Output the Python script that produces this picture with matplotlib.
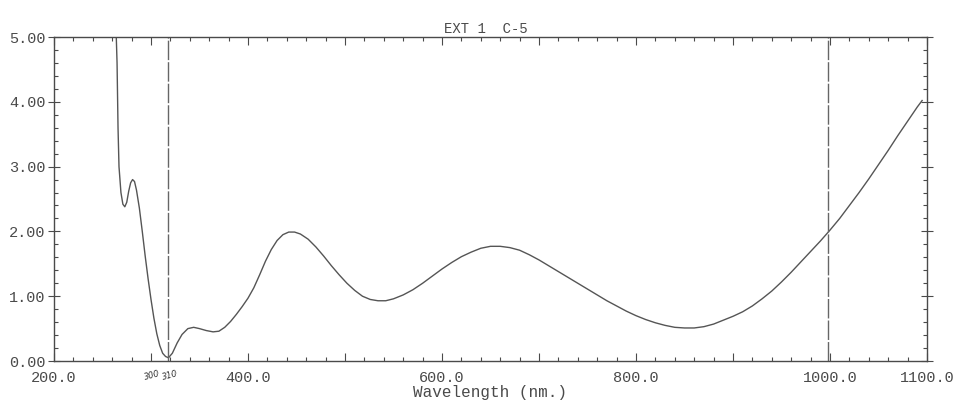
import numpy as np
import matplotlib
matplotlib.use("Agg")
from matplotlib import pyplot as plt
from matplotlib.ticker import MultipleLocator, FixedLocator

# spectrum (wavelength nm, absorbance)
wl = [263, 265, 266, 267, 269, 271, 273, 275, 277, 279, 281, 283, 285, 288,
      291, 294, 297, 300, 303, 306, 309, 312, 315, 318, 322, 327, 332, 338,
      344, 350, 357, 364, 370, 376, 382, 388, 394, 400, 406, 412, 418, 424,
      430, 436, 442, 448, 454, 462, 470, 478, 486, 494, 502, 510, 518, 526,
      534, 542, 550, 560, 570, 580, 590, 600, 610, 620, 630, 640, 650, 660,
      670, 680, 690, 700, 710, 720, 730, 740, 750, 760, 770, 780, 790, 800,
      810, 820, 830, 840, 850, 860, 870, 880, 890, 900, 910, 920, 930, 940,
      950, 960, 970, 980, 990, 1000, 1010, 1020, 1030, 1040, 1050, 1060,
      1070, 1080, 1090, 1095]
absb = [5.6, 4.6, 3.6, 3.0, 2.6, 2.42, 2.38, 2.45, 2.62, 2.75, 2.80, 2.77,
        2.64, 2.36, 2.00, 1.62, 1.27, 0.95, 0.66, 0.42, 0.24, 0.12, 0.07,
        0.05, 0.12, 0.28, 0.41, 0.50, 0.52, 0.50, 0.47, 0.45, 0.46, 0.52,
        0.61, 0.72, 0.84, 0.97, 1.13, 1.33, 1.54, 1.72, 1.86, 1.95, 1.99,
        1.99, 1.96, 1.88, 1.76, 1.62, 1.47, 1.33, 1.20, 1.09, 1.00, 0.95,
        0.93, 0.93, 0.96, 1.02, 1.10, 1.20, 1.31, 1.42, 1.52, 1.61, 1.68,
        1.74, 1.77, 1.77, 1.75, 1.71, 1.64, 1.56, 1.47, 1.38, 1.29, 1.20,
        1.11, 1.02, 0.93, 0.85, 0.77, 0.70, 0.64, 0.59, 0.55, 0.52, 0.51,
        0.51, 0.53, 0.57, 0.63, 0.69, 0.76, 0.85, 0.96, 1.08, 1.22, 1.37,
        1.53, 1.69, 1.85, 2.02, 2.20, 2.40, 2.60, 2.81, 3.03, 3.25, 3.48,
        3.70, 3.92, 4.02]

markers = [318, 998]
hand_notes = [(301, "300"), (320, "310")]
xlabels = {200: "200.0", 400: "400.0", 600: "600.0", 800: "800.0",
           1000: "1000.0", 1100: "1100.0"}
ylabels = [0, 1, 2, 3, 4, 5]

ink = "#4a4a4a"
mono = ["Liberation Mono", "DejaVu Sans Mono"]

fig = plt.figure(figsize=(9.61, 4.05), dpi=100)
ax = fig.add_axes([0.0562, 0.1086, 0.9084, 0.80])

ax.plot(wl, absb, color="#555555", lw=1.0, clip_on=True)
for m in markers:
    ax.axvline(m, color="#666666", lw=1.0, dashes=(14, 1.5))

ax.set_xlim(200, 1100)
ax.set_ylim(0, 5)

ax.xaxis.set_major_locator(FixedLocator(list(range(200, 1101, 100))))
ax.set_xticklabels([xlabels.get(v, "") for v in range(200, 1101, 100)])
ax.xaxis.set_minor_locator(MultipleLocator(20))
ax.set_yticks(ylabels)
ax.set_yticklabels(["%.2f" % v for v in ylabels])
ax.yaxis.set_minor_locator(MultipleLocator(0.2))

ax.tick_params(which="both", top=True, right=True, color=ink, width=0.8)
ax.tick_params(axis="x", which="major", direction="in", length=6, pad=7)
ax.tick_params(axis="x", which="minor", direction="in", length=3)
ax.tick_params(axis="y", which="major", direction="inout", length=8, pad=2)
ax.tick_params(axis="y", which="minor", direction="in", length=3)
for lab in ax.get_xticklabels() + ax.get_yticklabels():
    lab.set_family(mono)
    lab.set_fontsize(11)
    lab.set_color(ink)
for s in ax.spines.values():
    s.set_color(ink)
    s.set_linewidth(1.0)

ax.set_xlabel("Wavelength (nm.)", family=mono, fontsize=11.5, color=ink,
              labelpad=0)
ax.text(0.495, 1.004, "EXT 1  C-5", transform=ax.transAxes, ha="center",
        va="bottom", family=mono, fontsize=10, color=ink)

for x, t in hand_notes:
    ax.text(x, -0.12, t, ha="center", va="top", fontsize=6, color="#333333",
            style="italic", rotation=15, clip_on=False)

fig.savefig("out.png", dpi=100, facecolor="white")
